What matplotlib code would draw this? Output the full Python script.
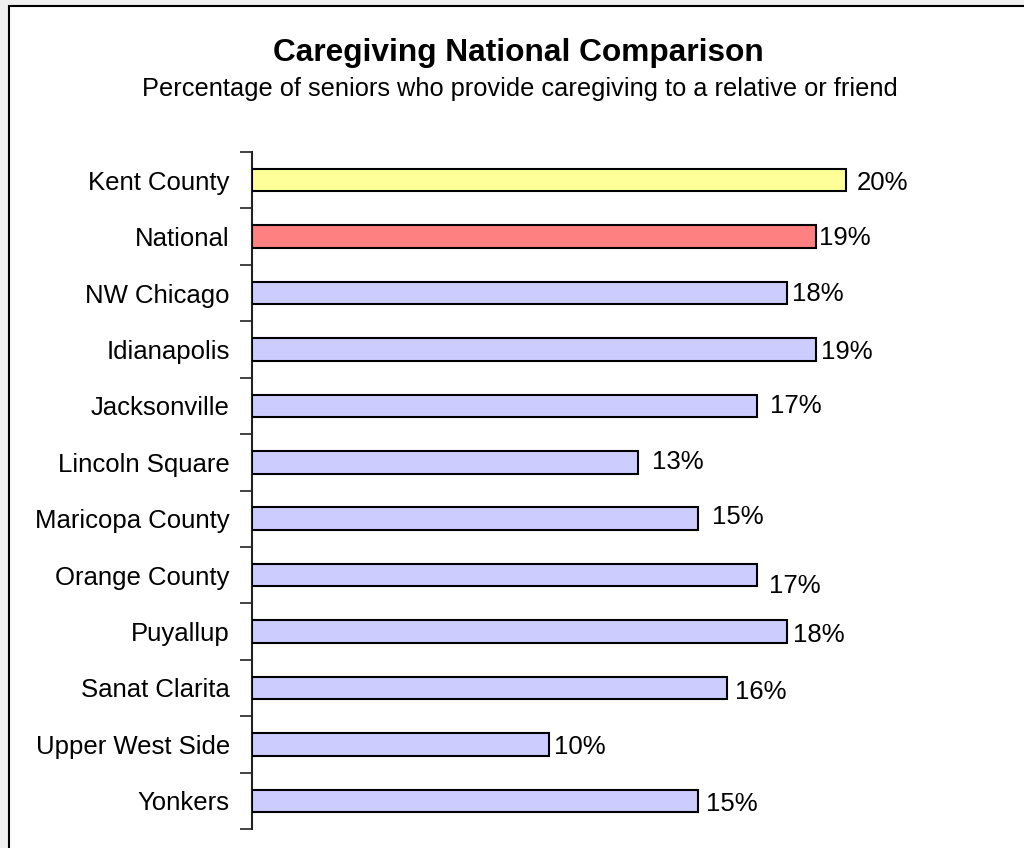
import matplotlib
matplotlib.use("Agg")
import matplotlib.pyplot as plt
from matplotlib.patches import Rectangle
import numpy as np

plt.rcParams['font.family'] = ['Liberation Sans', 'DejaVu Sans']

categories = ["Kent County", "National", "NW Chicago", "Idianapolis", "Jacksonville",
              "Lincoln Square", "Maricopa County", "Orange County", "Puyallup",
              "Sanat Clarita", "Upper West Side", "Yonkers"]
values = [20, 19, 18, 19, 17, 13, 15, 17, 18, 16, 10, 15]
value_labels = ["20%", "19%", "18%", "19%", "17%", "13%", "15%", "17%", "18%", "16%", "10%", "15%"]
bar_colors = ["#FFFF99", "#FF8080"] + ["#CCCCFF"] * 10

# label offsets (pixels) mimicking the reference placement
label_dx = [11, 3, 5, 5, 13, 14, 14, 12, 6, 8, 5, 9]
label_dy = [0, 2, 2, 0, 3, 3.5, 4.5, -8, 0, -1, 0, 0]

W, H = 1024, 848
fig = plt.figure(figsize=(W / 100, H / 100), dpi=100)
fig.patch.set_facecolor("#F0F0F0")
fig.patches.append(Rectangle((8.5 / W, -0.1), 2, 1.1 - 6.5 / H, transform=fig.transFigure,
                             facecolor="white", edgecolor="black", linewidth=1.5, zorder=-5))

ax = fig.add_axes([252 / W, 1 - 829 / H, 742 / W, (829 - 152) / H])
ax.set_zorder(2)
ax.set_facecolor("none")
y = np.arange(len(categories))
ax.barh(y, values, height=0.4, color=bar_colors, edgecolor="black", linewidth=1.5, zorder=3)
ax.set_xlim(0, 742 / 29.7)
ax.set_ylim(len(categories) - 0.5, -0.5)

for sp in ["top", "right", "bottom"]:
    ax.spines[sp].set_visible(False)
ax.spines["left"].set_linewidth(1.5)
ax.spines["left"].set_color("#222222")
ax.set_xticks([])
ax.set_yticks(y)
ax.set_yticklabels(categories, fontsize=18.5)
ax.tick_params(axis="y", which="major", length=0, pad=16)
ax.set_yticks(np.arange(len(categories) + 1) - 0.5, minor=True)
ax.tick_params(axis="y", which="minor", length=9, width=1.2, color="#222222", direction="out")

for i, (v, lab) in enumerate(zip(values, value_labels)):
    ax.annotate(lab, xy=(v, i), xytext=(label_dx[i], label_dy[i] - 3), textcoords="offset pixels",
                ha="left", va="center", fontsize=18.5)

t1 = fig.text(518 / W, 1 - 53 / H, "Caregiving National Comparison", ha="center", va="center",
              fontsize=22.75, fontweight="bold", zorder=3)
t2 = fig.text(520 / W, 1 - 89 / H, "Percentage of seniors who provide caregiving to a relative or friend",
              ha="center", va="center", fontsize=18.3, zorder=3)

fig.savefig("out.png", dpi=100, facecolor=fig.get_facecolor())
